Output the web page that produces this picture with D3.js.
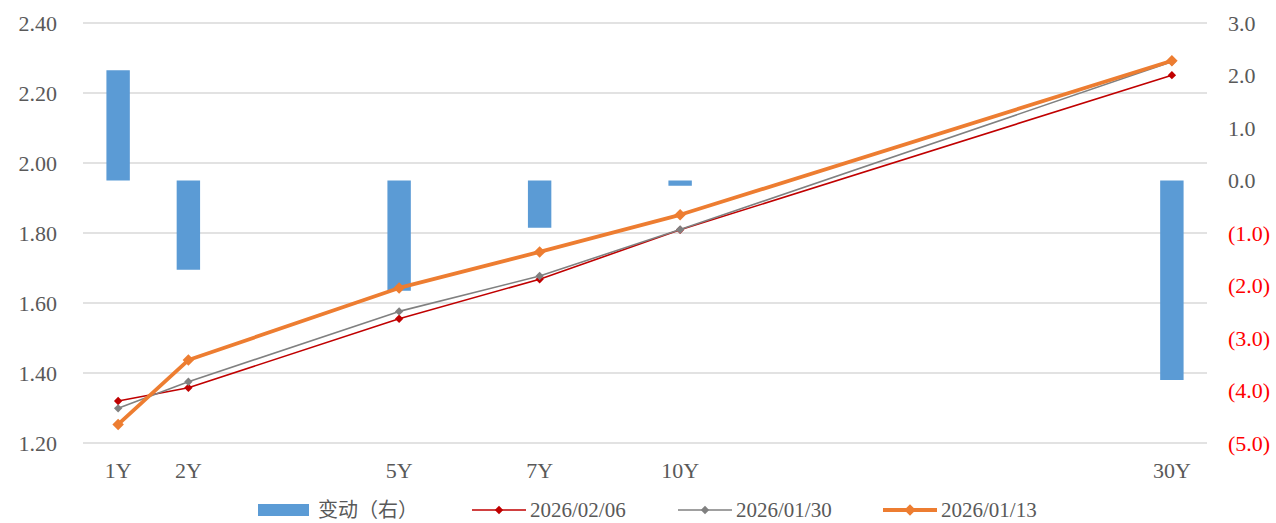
<!DOCTYPE html>
<html>
<head>
<meta charset="utf-8">
<script src="https://cdn.jsdelivr.net/npm/d3@7"></script>
<style>
  html, body { margin: 0; padding: 0; background: #fff; }
  svg { display: block; }
  text { font-family: "Liberation Serif", "Times New Roman", serif; }
  text.cjk { font-family: "Noto Sans CJK SC", sans-serif; }
</style>
</head>
<body>
<svg id="chart" width="1276" height="523"></svg>
<script>
// Tenor slots on the category axis (unlabelled slots keep the spacing)
const categories = ["1Y","2Y","","","5Y","","7Y","","10Y","","","","","","","30Y"];

// Yields (%) per slot; null where a slot has no data
const yield0206 = [1.320, 1.358, null, null, 1.555, null, 1.668, null, 1.809, null, null, null, null, null, null, 2.251];
const yield0130 = [1.299, 1.375, null, null, 1.576, null, 1.677, null, 1.810, null, null, null, null, null, null, 2.289];
const yield0113 = [1.253, 1.437, null, null, 1.643, null, 1.746, null, 1.852, null, null, null, null, null, null, 2.292];

// Week-on-week change (bp), right axis
const change = [2.1, -1.7, null, null, -2.1, null, -0.9, null, -0.1, null, null, null, null, null, null, -3.8];

// Axis ticks
const leftTicks = [1.2, 1.4, 1.6, 1.8, 2.0, 2.2, 2.4];
const rightTicks = [3, 2, 1, 0, -1, -2, -3, -4, -5];

const seriesNames = ["变动（右）", "2026/02/06", "2026/01/30", "2026/01/13"];

const svg = d3.select("#chart");
const plot = { left: 83, right: 1207, top: 23, bottom: 443 };
const fontSize = 22;

const slots = d3.range(categories.length);
const x = d3.scaleBand().domain(slots).range([plot.left, plot.right]).paddingInner(2/3).paddingOuter(1/3);
const xc = i => x(i) + x.bandwidth() / 2;

const yL = d3.scaleLinear().domain([1.2, 2.4]).range([plot.bottom, plot.top]);
const yR = d3.scaleLinear().domain([-5, 3]).range([plot.bottom, plot.top]);

// Gridlines
svg.append("g").selectAll("line").data(leftTicks).join("line")
  .attr("x1", plot.left).attr("x2", plot.right)
  .attr("y1", d => yL(d)).attr("y2", d => yL(d))
  .attr("stroke", "#d9d9d9").attr("stroke-width", 1.3);

// Left axis labels
const leftAxis = d3.axisLeft(yL).tickValues(leftTicks).tickFormat(d3.format(".2f")).tickSize(0).tickPadding(26);
svg.append("g").attr("transform", `translate(${plot.left},0)`).call(leftAxis)
  .call(g => g.select(".domain").remove())
  .selectAll("text").attr("font-size", fontSize).attr("fill", "#595959");

// Right axis labels, negatives in parentheses and red
const fmtR = d => d < 0 ? `(${d3.format(".1f")(-d)})` : d3.format(".1f")(d);
const rightAxis = d3.axisRight(yR).tickValues(rightTicks).tickFormat(fmtR).tickSize(0).tickPadding(21);
svg.append("g").attr("transform", `translate(${plot.right},0)`).call(rightAxis)
  .call(g => g.select(".domain").remove())
  .selectAll("text").attr("font-size", fontSize)
  .attr("fill", d => d < 0 ? "#ff0000" : "#595959");

// Category labels
const xAxis = d3.axisBottom(x).tickFormat(i => categories[i]).tickSize(0).tickPadding(19);
svg.append("g").attr("transform", `translate(0,${plot.bottom})`).call(xAxis)
  .call(g => g.select(".domain").remove())
  .call(g => g.selectAll(".tick").filter(i => categories[i] === "").remove())
  .selectAll("text").attr("font-size", fontSize).attr("fill", "#595959");

// Change bars
const barData = slots.filter(i => change[i] != null);
svg.append("g").selectAll("rect").data(barData).join("rect")
  .attr("x", i => x(i))
  .attr("width", x.bandwidth())
  .attr("y", i => Math.min(yR(change[i]), yR(0)))
  .attr("height", i => Math.abs(yR(change[i]) - yR(0)))
  .attr("fill", "#5b9bd5");

// Yield curves
const diamond = d3.symbol().type(d3.symbolDiamond2);
function drawCurve(values, color, width, markerSize) {
  const pts = slots.filter(i => values[i] != null);
  const line = d3.line().x(i => xc(i)).y(i => yL(values[i]));
  const g = svg.append("g");
  g.append("path").datum(pts).attr("d", line)
    .attr("fill", "none").attr("stroke", color).attr("stroke-width", width)
    .attr("stroke-linejoin", "round");
  g.selectAll("path.m").data(pts).join("path").attr("class", "m")
    .attr("d", diamond.size(markerSize)())
    .attr("transform", i => `translate(${xc(i)},${yL(values[i])})`)
    .attr("fill", color);
}
drawCurve(yield0206, "#c00000", 1.6, 45);
drawCurve(yield0130, "#808080", 1.6, 45);
drawCurve(yield0113, "#ed7d31", 3.8, 85);

// Legend
const legY = 510;
const leg = svg.append("g");
leg.append("rect").attr("x", 258).attr("y", legY - 6).attr("width", 51).attr("height", 12).attr("fill", "#5b9bd5");
leg.append("text").attr("class", "cjk").attr("x", 318).attr("y", legY).attr("dy", "0.35em")
  .attr("font-size", 20).attr("fill", "#595959")
  .text(seriesNames[0]);

const lineLegend = [
  { name: seriesNames[1], color: "#c00000", w: 1.6, m: 45, x0: 472 },
  { name: seriesNames[2], color: "#808080", w: 1.6, m: 45, x0: 678 },
  { name: seriesNames[3], color: "#ed7d31", w: 3.8, m: 85, x0: 883 }
];
lineLegend.forEach(d => {
  leg.append("line").attr("x1", d.x0).attr("x2", d.x0 + 54).attr("y1", legY).attr("y2", legY)
    .attr("stroke", d.color).attr("stroke-width", d.w);
  leg.append("path").attr("d", diamond.size(d.m)()).attr("transform", `translate(${d.x0 + 27},${legY})`).attr("fill", d.color);
  leg.append("text").attr("x", d.x0 + 58).attr("y", legY).attr("dy", "0.35em")
    .attr("font-size", 21).attr("fill", "#595959").text(d.name);
});
</script>
</body>
</html>
